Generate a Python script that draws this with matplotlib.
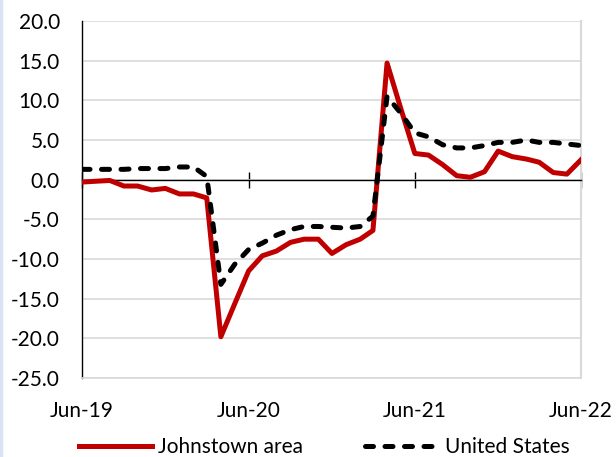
import numpy as np
import pandas as pd
import matplotlib

matplotlib.use("Agg")
import matplotlib.pyplot as plt  # noqa: E402
import matplotlib.dates as mdates  # noqa: E402
from matplotlib.ticker import FuncFormatter  # noqa: E402

plt.rcParams["font.family"] = ["Lato", "DejaVu Sans"]

# monthly series, Jun-2019 .. Jun-2022
months = pd.date_range("2019-06-01", "2022-06-01", freq="MS")
johnstown = [-0.3, -0.2, -0.1, -0.8, -0.8, -1.3, -1.1, -1.8, -1.8, -2.3,
             -19.8, -15.7, -11.5, -9.6, -9.0, -7.9, -7.5, -7.5, -9.3, -8.2,
             -7.5, -6.4, 14.7, 9.0, 3.3, 3.1, 1.9, 0.5, 0.3, 1.0,
             3.6, 2.9, 2.6, 2.2, 0.9, 0.7, 2.5]
united_states = [1.3, 1.3, 1.3, 1.3, 1.4, 1.4, 1.4, 1.6, 1.6, 0.4,
                 -13.2, -10.7, -8.8, -8.0, -7.0, -6.3, -5.9, -5.9, -6.0, -6.1,
                 -5.9, -4.6, 10.5, 8.4, 5.9, 5.4, 4.4, 4.0, 4.0, 4.3,
                 4.7, 4.7, 5.0, 4.7, 4.7, 4.5, 4.3]
series_names = ["Johnstown area", "United States"]
y_ticks = np.arange(-25, 21, 5)

fig = plt.figure(figsize=(6.16, 4.57), dpi=100)
ax = fig.add_axes([82 / 616, 1 - 378 / 457, 499 / 616, 357 / 457])

ax.plot(months, johnstown, color="#C00000", lw=3.6, label=series_names[0],
        solid_joinstyle="round", zorder=3)
ax.plot(months, united_states, color="black", lw=3.6, dashes=(1.6, 2.3),
        dash_capstyle="round", label=series_names[1], zorder=4)

ax.set_ylim(-25, 20)
ax.set_yticks(y_ticks)
ax.yaxis.set_major_formatter(FuncFormatter(lambda v, p: f"{v:.1f}"))
ax.yaxis.grid(True, color="#D9D9D9", lw=1.2)
ax.set_axisbelow(True)
ax.tick_params(axis="y", length=0, pad=16, labelsize=15)

ax.set_xlim(months[0], months[-1])
ax.xaxis.set_major_locator(mdates.MonthLocator(bymonth=6))
ax.xaxis.set_major_formatter(mdates.DateFormatter("%b-%y"))
ax.xaxis.set_ticks_position("both")
ax.tick_params(axis="x", bottom=False, top=True, labelbottom=True,
               labeltop=False, direction="inout", length=11, width=1,
               color="black", pad=11, labelsize=15)

# zero line carries the year tick marks
ax.spines["top"].set_position(("data", 0))
ax.spines["top"].set_color("black")
ax.spines["top"].set_linewidth(1)
ax.spines["left"].set_color("black")
ax.spines["left"].set_linewidth(1)
ax.spines["right"].set_color("#D9D9D9")
ax.spines["right"].set_linewidth(1.5)
ax.spines["bottom"].set_color("#D9D9D9")
ax.spines["bottom"].set_linewidth(1.2)

fig.legend(loc="center", bbox_to_anchor=(0.526, 0.022), ncol=2, frameon=False,
           fontsize=15, handlelength=3.5, handletextpad=0.3, columnspacing=3.0)

fig.add_artist(plt.Line2D([0.002, 0.002], [0, 1], transform=fig.transFigure,
                          color="#DAE3F3", lw=2.5))

fig.savefig("out.png", dpi=100)
